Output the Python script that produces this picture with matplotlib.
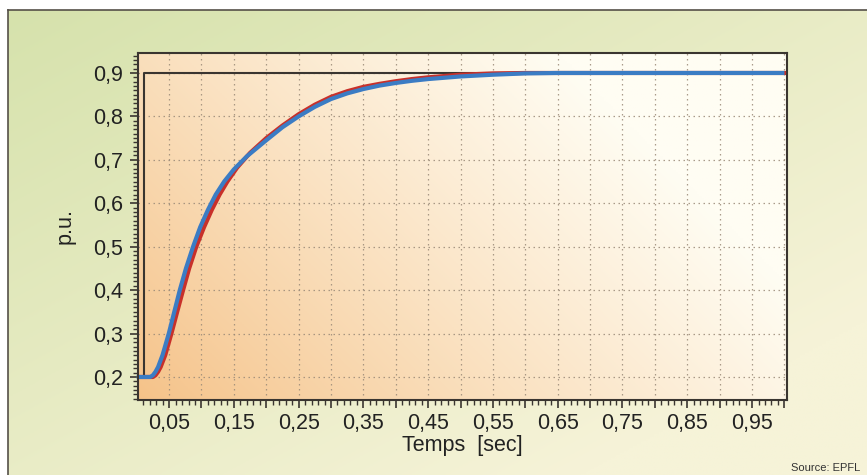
import numpy as np
import matplotlib
matplotlib.use("Agg")
import matplotlib.pyplot as plt
from matplotlib.ticker import MultipleLocator, FuncFormatter

plt.rcParams["font.family"] = ["Liberation Sans", "DejaVu Sans"]

# Step reference (black)
step_t = [0.0, 0.011, 0.011, 1.0]
step_v = [0.2, 0.2, 0.9, 0.9]

# Measured response (red)
red_t = [0.0, 0.025, 0.029, 0.033, 0.037, 0.044, 0.0536, 0.0625, 0.0716, 0.081,
         0.092, 0.104, 0.116, 0.128, 0.14, 0.155, 0.175, 0.2, 0.225, 0.25, 0.275,
         0.3, 0.325, 0.35, 0.375, 0.4, 0.425, 0.45, 0.475, 0.5, 0.55, 0.6, 1.0]
red_v = [0.2, 0.2, 0.204, 0.212, 0.223, 0.25, 0.30, 0.35, 0.40, 0.45,
         0.50, 0.545, 0.585, 0.62, 0.65, 0.682, 0.716, 0.75, 0.779, 0.805, 0.827,
         0.845, 0.858, 0.868, 0.875, 0.881, 0.886, 0.890, 0.893, 0.896, 0.899, 0.9, 0.9]

# Simulated response (blue)
blue_t = [0.0, 0.021, 0.025, 0.029, 0.033, 0.04, 0.0495, 0.058, 0.0665, 0.076,
          0.087, 0.098, 0.11, 0.122, 0.135, 0.15, 0.17, 0.2, 0.225, 0.25, 0.275,
          0.3, 0.325, 0.35, 0.375, 0.4, 0.425, 0.45, 0.475, 0.5, 0.55, 0.6, 0.65, 1.0]
blue_v = [0.2, 0.2, 0.204, 0.212, 0.223, 0.251, 0.30, 0.35, 0.40, 0.45,
          0.50, 0.545, 0.585, 0.62, 0.65, 0.678, 0.708, 0.745, 0.775, 0.80, 0.822,
          0.84, 0.853, 0.863, 0.871, 0.877, 0.882, 0.886, 0.889, 0.892, 0.896, 0.899, 0.9, 0.9]

W, H = 867, 475
fig = plt.figure(figsize=(W / 100, H / 100), dpi=100)
fig.patch.set_facecolor("white")

# green page background with light gradient
bg = fig.add_axes([8 / W, 0, 1 - 8 / W, 1 - 10 / H])
gx, gy = np.meshgrid(np.linspace(0, 1, 200), np.linspace(0, 1, 200))
w = np.clip(0.6 * gx + 0.6 * gy, 0, 1)[..., None]
c0 = np.array([0xd6, 0xe2, 0xac]) / 255
c1 = np.array([0xf6, 0xf3, 0xd8]) / 255
bg.imshow(c0 * (1 - w) + c1 * w, extent=[0, 1, 0, 1], origin="upper", aspect="auto")
bg.set_xlim(0, 1)
bg.set_ylim(0, 1)
bg.set_xticks([])
bg.set_yticks([])
for name, s in bg.spines.items():
    s.set_color("#555048")
    s.set_linewidth(1.2)
    if name in ("right", "bottom"):
        s.set_visible(False)

ax = fig.add_axes([138 / W, 75 / H, 649 / W, 347 / H])
x0, x1 = 0.002, 1.004
y0, y1 = 0.147, 0.946

# orange to cream gradient inside the plot area
ax_x, ax_y = np.meshgrid(np.linspace(0, 1, 300), np.linspace(0, 1, 200))
k = np.clip(0.85 * ax_x + 0.45 * ax_y, 0, 1)[..., None] ** 0.9
ca = np.array([0xf5, 0xc2, 0x88]) / 255
cb = np.array([0xff, 0xfd, 0xf3]) / 255
ax.imshow(ca * (1 - k) + cb * k, extent=[x0, x1, y0, y1], origin="lower",
          aspect="auto", zorder=0)

ax.set_xlim(x0, x1)
ax.set_ylim(y0, y1)

ax.plot(step_t, step_v, color="#3a3530", lw=1.5, zorder=3)
ax.plot(red_t, red_v, color="#c8302a", lw=3, zorder=4)
ax.plot(blue_t, blue_v, color="#3b7cc4", lw=3, zorder=5, clip_on=False,
        solid_capstyle="butt")

ax.xaxis.set_major_locator(MultipleLocator(0.05))
ax.xaxis.set_minor_locator(MultipleLocator(0.01))
ax.yaxis.set_major_locator(MultipleLocator(0.1))
ax.yaxis.set_minor_locator(MultipleLocator(0.01))


def xfmt(v, pos):
    n = int(round(v * 100))
    if n % 10 == 5:
        return f"{v:.2f}".replace(".", ",")
    return ""


ax.xaxis.set_major_formatter(FuncFormatter(xfmt))
ax.yaxis.set_major_formatter(FuncFormatter(lambda v, p: f"{v:.1f}".replace(".", ",")))

ax.tick_params(which="major", length=6, width=1.2, color="#3a3530",
               labelsize=15.5, labelcolor="#222222", direction="out")
ax.tick_params(which="minor", length=3.5, width=1, color="#3a3530", direction="out")
ax.tick_params(axis="x", which="major", pad=3)
ax.tick_params(axis="y", which="major", pad=5)

ax.grid(True, which="major", linestyle=(0, (1.2, 2.8)), color="#9a8a78",
        linewidth=0.9, alpha=0.85, zorder=1)
for s in ax.spines.values():
    s.set_color("#3a3530")
    s.set_linewidth(1.5)
    s.set_zorder(6)

ax.set_xlabel("Temps  [sec]", fontsize=15.5, color="#222222", labelpad=1)
ax.set_ylabel("p.u.", fontsize=15.5, color="#222222", labelpad=12)

fig.text(860 / W, 1 - 468 / H, "Source: EPFL", ha="right", va="center",
         fontsize=8, color="#333333")

fig.savefig("out.png", dpi=100)
